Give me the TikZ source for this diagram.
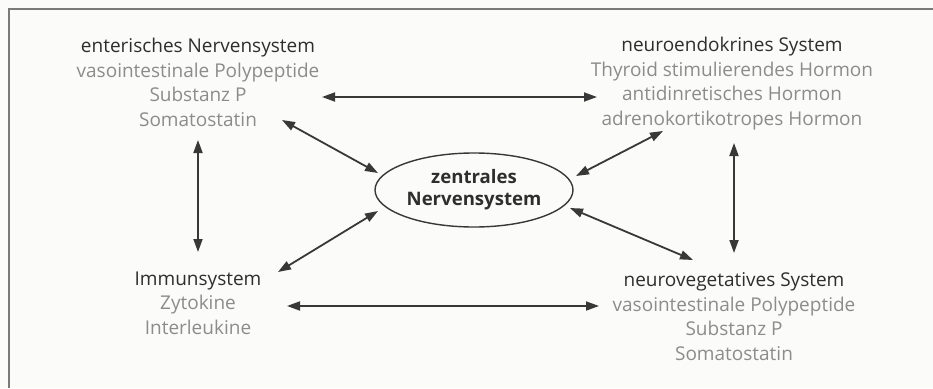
\documentclass[tikz,border=0pt]{standalone}
\usepackage{fontspec}
\setmainfont{Open Sans}
\usetikzlibrary{arrows.meta,shapes.geometric}
\definecolor{bgc}{HTML}{FBFBF9}
\definecolor{titlec}{HTML}{2E2E2E}
\definecolor{itemc}{HTML}{8C8C8C}
\definecolor{framec}{HTML}{7A7A7A}
\definecolor{arrc}{HTML}{383838}
\tikzset{
  x=1pt, y=-1pt,
  blocktext/.style={align=center, inner sep=0pt, anchor=base, font=\fontsize{19}{24.5}\selectfont, text=itemc},
  bidir/.style={draw=arrc, line width=1.8pt, {Triangle[length=13pt,width=9pt]}-{Triangle[length=13pt,width=9pt]}},
  cns/.style={ellipse, draw=arrc, line width=1.4pt, minimum width=198pt, minimum height=74pt, inner sep=0pt, align=center, font=\fontsize{18.6}{22}\selectfont\bfseries, text=titlec}
}
\newcommand{\ttl}[1]{\textcolor{titlec}{#1}}
\begin{document}
\begin{tikzpicture}
\useasboundingbox (0,0) rectangle (933,388);
\fill[bgc] (0,0) rectangle (933,388);
\draw[framec, line width=2pt] (9,388) -- (9,9) -- (933,9);

\node[blocktext] (ens) at (198,126) {\ttl{enterisches Nervensystem}\\vasointestinale Polypeptide\\Substanz P\\Somatostatin};
\node[blocktext] (nes) at (732,125) {\ttl{neuroendokrines System}\\Thyroid stimulierendes Hormon\\antidinretisches Hormon\\adrenokortikotropes Hormon};
\node[blocktext] (ims) at (198,334) {\ttl{Immunsystem}\\Zytokine\\Interleukine};
\node[blocktext] (nvs) at (734,360) {\ttl{neurovegetatives System}\\vasointestinale Polypeptide\\Substanz P\\Somatostatin};
\node[cns] (zns) at (474,190) {zentrales\\Nervensystem};

\coordinate (ensR) at (322,97);
\coordinate (nesL) at (597,97);
\coordinate (imsR) at (287,306);
\coordinate (nvsL) at (599,306);
\coordinate (ensB) at (198,140);
\coordinate (imsT) at (198,252);
\coordinate (nesB) at (734,143);
\coordinate (nvsT) at (734,253);
\coordinate (ensD) at (282,120);
\coordinate (znsTL) at (378,173);
\coordinate (imsD) at (278,272);
\coordinate (znsBL) at (378,211);
\coordinate (nesD) at (663,131);
\coordinate (znsTR) at (576,176);
\coordinate (nvsD) at (693,260);
\coordinate (znsBR) at (570,208);

\draw[bidir] (ensR) -- (nesL);
\draw[bidir] (imsR) -- (nvsL);
\draw[bidir] (ensB) -- (imsT);
\draw[bidir] (nesB) -- (nvsT);
\draw[bidir] (ensD) -- (znsTL);
\draw[bidir] (imsD) -- (znsBL);
\draw[bidir] (nesD) -- (znsTR);
\draw[bidir] (nvsD) -- (znsBR);
\end{tikzpicture}
\end{document}
